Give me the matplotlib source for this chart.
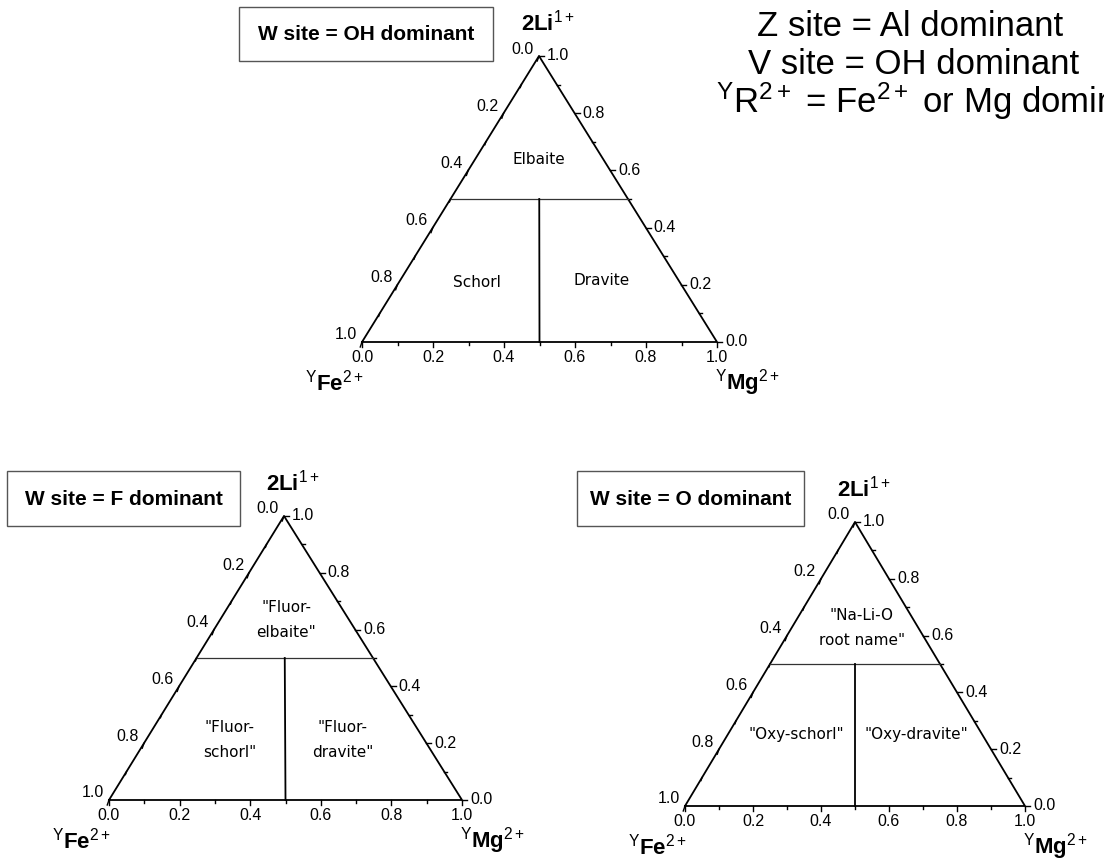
import matplotlib
matplotlib.use('Agg')
import matplotlib.pyplot as plt
from matplotlib.patches import Rectangle

plt.rcParams['font.family'] = ['Liberation Sans', 'DejaVu Sans']
plt.rcParams['mathtext.fontset'] = 'custom'
plt.rcParams['mathtext.rm'] = 'Liberation Sans'
plt.rcParams['mathtext.bf'] = 'Liberation Sans:bold'
plt.rcParams['mathtext.it'] = 'Liberation Sans:italic'

# axis ticks (same on all three sides)
major_ticks = [0.0, 0.2, 0.4, 0.6, 0.8, 1.0]
major_labels = ['0.0', '0.2', '0.4', '0.6', '0.8', '1.0']
minor_ticks = [0.1, 0.3, 0.5, 0.7, 0.9]

# field boundaries as (Fe, Mg, Li)
li_boundary = [(0.5, 0.0, 0.5), (0.0, 0.5, 0.5)]
femg_boundary = [(0.5, 0.5, 0.0), (0.25, 0.25, 0.5)]

# corner labels
apex_label = r'$\mathbf{2Li}^{\mathrm{1+}}$'
left_label = r'$^{\mathrm{Y}}\mathbf{Fe}^{\mathrm{2+}}$'
right_label = r'$^{\mathrm{Y}}\mathbf{Mg}^{\mathrm{2+}}$'

# the three diagrams
w_site = ['W site = OH dominant', 'W site = F dominant', 'W site = O dominant']
field_names = [
    ['Elbaite', 'Schorl', 'Dravite'],
    ['"Fluor-\nelbaite"', '"Fluor-\nschorl"', '"Fluor-\ndravite"'],
    ['"Na-Li-O\nroot name"', '"Oxy-schorl"', '"Oxy-dravite"'],
]
# label positions (Fe, Mg, Li)
field_pos = [
    [(0.18, 0.18, 0.64), (0.57, 0.22, 0.21), (0.215, 0.565, 0.22)],
    [(0.177, 0.186, 0.637), (0.55, 0.235, 0.215), (0.23, 0.555, 0.215)],
    [(0.165, 0.205, 0.63), (0.547, 0.199, 0.254), (0.193, 0.552, 0.255)],
]

header = ['Z site = Al dominant', 'V site = OH dominant',
          r'$^{\mathrm{Y}}\mathrm{R}^{\mathrm{2+}}$ = Fe$^{\mathrm{2+}}$ or Mg dominant']

# layout in pixels: (bottom-left, bottom-right, apex), box (x0, y0, x1, y1)
triangles = [((362, 343), (717, 343), (539, 57)),
             ((109, 801), (462, 801), (284, 517)),
             ((685, 807), (1025, 807), (855, 523))]
boxes = [(239, 8, 493, 62), (7, 472, 240, 527), (577, 472, 804, 527)]


def tern(p, tri):
    fe, mg, li = p
    bl, br, ap = tri
    x = fe * bl[0] + mg * br[0] + li * ap[0]
    y = fe * bl[1] + mg * br[1] + li * ap[1]
    return x, y


def draw_ternary(ax, tri, box, title, names, pos):
    bl, br, ap = tri
    ax.plot([bl[0], br[0], ap[0], bl[0]], [bl[1], br[1], ap[1], bl[1]],
            color='k', lw=1.3, solid_joinstyle='miter')

    for vals, L in ((major_ticks, 5), (minor_ticks, 3)):
        for v in vals:
            # bottom axis: Mg
            x, y = tern((1 - v, v, 0), tri)
            ax.plot([x, x], [y, y + L], color='k', lw=1)
            # right axis: Li
            x, y = tern((0, 1 - v, v), tri)
            ax.plot([x, x + L], [y, y], color='k', lw=1)
            # left axis: Fe
            x, y = tern((v, 0, 1 - v), tri)
            ax.plot([x, x - 0.35 * L], [y, y + L], color='k', lw=1)

    for v, lab in zip(major_ticks, major_labels):
        x, y = tern((1 - v, v, 0), tri)
        ax.text(x, y + 15, lab, ha='center', va='center', fontsize=11.5)
        x, y = tern((0, 1 - v, v), tri)
        ax.text(x + 8, y - 1, lab, ha='left', va='center', fontsize=11.5)
        x, y = tern((v, 0, 1 - v), tri)
        ax.text(x - 5, y - 8, lab, ha='right', va='center', fontsize=11.5)

    for line, lw, c in ((li_boundary, 0.9, '#333333'), (femg_boundary, 1.3, 'k')):
        xs, ys = zip(*[tern(p, tri) for p in line])
        ax.plot(xs, ys, color=c, lw=lw)

    for name, p in zip(names, pos):
        x, y = tern(p, tri)
        ax.text(x, y, name, ha='center', va='center', fontsize=11,
                family='DejaVu Sans', linespacing=1.9)

    ax.text(ap[0] + 9, ap[1] - 34, apex_label, ha='center', va='center', fontsize=16)
    ax.text(bl[0] + 2, bl[1] + 40, left_label, ha='right', va='center', fontsize=16)
    ax.text(br[0] - 2, br[1] + 40, right_label, ha='left', va='center', fontsize=16)

    x0, y0, x1, y1 = box
    ax.add_patch(Rectangle((x0, y0), x1 - x0, y1 - y0, fill=False,
                           edgecolor='#555555', lw=1))
    ax.text((x0 + x1) / 2, (y0 + y1) / 2, title, ha='center', va='center',
            fontsize=15, fontweight='bold')


fig = plt.figure(figsize=(11.04, 8.62), dpi=100)
ax = fig.add_axes([0, 0, 1, 1])
ax.set_xlim(0, 1104)
ax.set_ylim(862, 0)
ax.axis('off')

for tri, box, title, names, pos in zip(triangles, boxes, w_site, field_names, field_pos):
    draw_ternary(ax, tri, box, title, names, pos)

# header block, last line runs off the right edge as in the original slide
for i, (line, x) in enumerate(zip(header, [757, 748, 716])):
    ax.text(x, 27 + 37 * i, line, ha='left', va='center', fontsize=25)

fig.savefig('out.png', dpi=100)
